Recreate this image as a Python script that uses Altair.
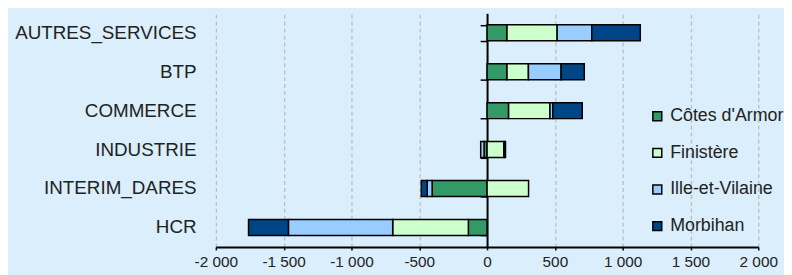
import altair as alt
import pandas as pd

categories = ["AUTRES_SERVICES", "BTP", "COMMERCE", "INDUSTRIE", "INTERIM_DARES", "HCR"]
series = ["Côtes d'Armor", "Finistère", "Ille-et-Vilaine", "Morbihan"]
colors = ["#339966", "#CCFFCC", "#99CCFF", "#004586"]

cotes = [147, 147, 159, -22, -405, -138]
finistere = [370, 158, 305, 124, 306, -558]
ille = [255, 241, 21, -25, -36, -769]
morbihan = [358, 171, 217, 12, -44, -294]

x_ticks = [-2000, -1500, -1000, -500, 0, 500, 1000, 1500, 2000]

rows = []
for s_i, (s, vals) in enumerate(zip(series, [cotes, finistere, ille, morbihan])):
    for c, v in zip(categories, vals):
        rows.append({"cat": c, "serie": s, "ordre": s_i, "value": v})
df = pd.DataFrame(rows)

zero_df = pd.DataFrame({"cat": categories, "value": [0] * len(categories)})

y_scale = alt.Scale(domain=categories, paddingInner=0.59, paddingOuter=0.295)
x_scale = alt.Scale(domain=[-2000, 2000], nice=False)
label_expr = "(datum.value < 0 ? '-' : '') + replace(format(abs(datum.value), ','), ',', ' ')"

x_axis = alt.Axis(
    values=x_ticks, title=None, grid=True, gridDash=[4, 3],
    gridColor="#BDBDBD", gridWidth=1.3, domainColor="black",
    domainWidth=2, tickColor="black", tickSize=3, tickWidth=1.5,
    labelFontSize=15.5, labelPadding=5, labelExpr=label_expr,
    labelColor="#222222", labelFont="Liberation Sans", labelFlush=False,
)

bars = alt.Chart(df).mark_bar(stroke="black", strokeWidth=1.5).encode(
    x=alt.X("value:Q", stack="zero", scale=x_scale, axis=x_axis),
    y=alt.Y(
        "cat:N", sort=categories, scale=y_scale,
        axis=alt.Axis(
            title=None, domain=False, ticks=False, tickSize=0, labelPadding=20,
            labelFontSize=19, grid=False, labelColor="#222222",
            labelFont="Liberation Sans", orient="left", labelLimit=400,
        ),
    ),
    color=alt.Color(
        "serie:N",
        scale=alt.Scale(domain=series, range=colors),
        legend=alt.Legend(
            title=None, orient="none", legendX=437, legendY=95,
            symbolType="square", symbolSize=81, symbolStrokeColor="black",
            symbolStrokeWidth=1.5, labelFontSize=18, labelFont="Liberation Sans",
            labelColor="#222222", labelOffset=4, rowPadding=19, labelLimit=300,
        ),
    ),
    order=alt.Order("ordre:Q", sort="ascending"),
)

zero_axis = alt.Chart(zero_df).mark_point(opacity=0).encode(
    x=alt.X("value:Q", scale=x_scale, axis=x_axis),
    y=alt.Y(
        "cat:N", sort=categories, scale=y_scale,
        axis=alt.Axis(
            title=None, orient="left", offset=-274, labels=False, domain=True,
            domainColor="black", domainWidth=2, ticks=True, tickBand="extent",
            tickSize=7, tickColor="black", tickWidth=1.5, grid=False,
        ),
    ),
)

chart = (
    alt.layer(bars, zero_axis)
    .resolve_axis(y="independent")
    .properties(
        width=548, height=236,
        autosize=alt.AutoSizeParams(type="none"),
        padding={"left": 210, "top": 4, "right": 26, "bottom": 27},
        background="#DAEEFB",
    )
    .configure_view(stroke=None)
)

chart.save("out.html", embed_options={"renderer": "svg", "actions": False})
